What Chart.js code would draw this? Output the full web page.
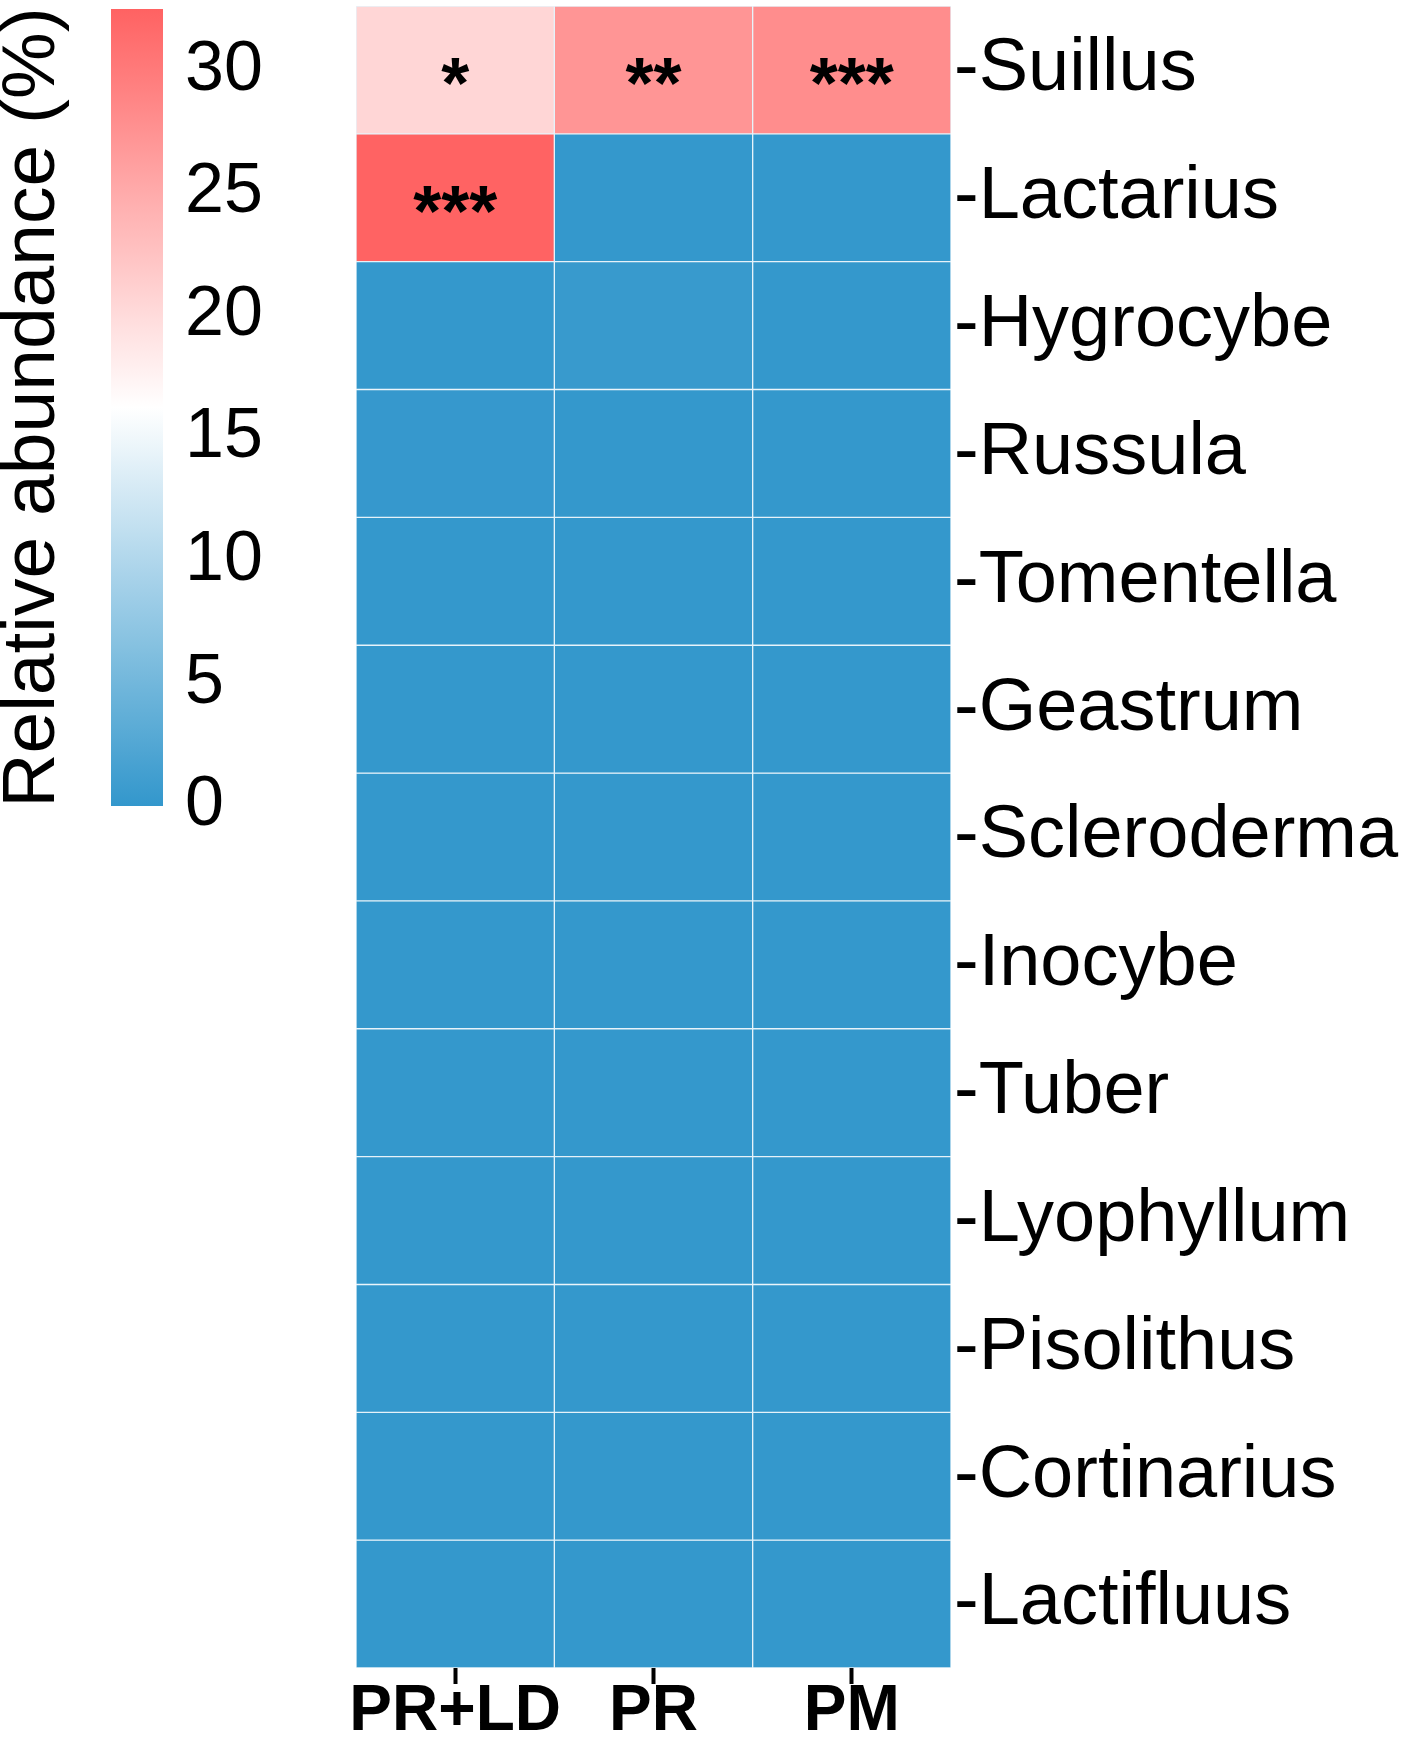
<!DOCTYPE html>
<html>
<head>
<meta charset="utf-8">
<script src="https://cdn.jsdelivr.net/npm/chart.js@4.4.1/dist/chart.umd.min.js"></script>
<style>
  html, body { margin: 0; padding: 0; background: #fff; }
  #wrap { position: relative; width: 1412px; height: 1743px; }
  #legend { position: absolute; left: 0; top: 0; }
  #heat { position: absolute; left: 330px; top: 0; }
</style>
</head>
<body>
<div id="wrap">
  <canvas id="legend" width="330" height="880"></canvas>
  <canvas id="heat" width="1082" height="1743"></canvas>
</div>
<script>
// columns (treatments) and rows (genera), top to bottom
const groups = ['PR+LD', 'PR', 'PM'];
const genera = ['Suillus', 'Lactarius', 'Hygrocybe', 'Russula', 'Tomentella', 'Geastrum',
                'Scleroderma', 'Inocybe', 'Tuber', 'Lyophyllum', 'Pisolithus', 'Cortinarius', 'Lactifluus'];

// relative abundance (%) per genus, in the order of groups
const suillus     = [20.5, 27.2, 28.1];
const lactarius   = [32.4, 0.1, 0.1];
const hygrocybe   = [0.1, 0.4, 0.1];
const russula     = [0.2, 0.1, 0.1];
const tomentella  = [0.1, 0.1, 0.1];
const geastrum    = [0.1, 0.1, 0.1];
const scleroderma = [0.1, 0.1, 0.1];
const inocybe     = [0.1, 0.1, 0.1];
const tuber       = [0.1, 0.1, 0.1];
const lyophyllum  = [0.1, 0.1, 0.1];
const pisolithus  = [0.1, 0.1, 0.1];
const cortinarius = [0.1, 0.1, 0.1];
const lactifluus  = [0.1, 0.1, 0.1];
const abundance = [suillus, lactarius, hygrocybe, russula, tomentella, geastrum,
                   scleroderma, inocybe, tuber, lyophyllum, pisolithus, cortinarius, lactifluus];

// significance marks (only the two top rows have any)
const signifSuillus   = ['*', '**', '***'];
const signifLactarius = ['***', '', ''];

// colour bar
const legendTicks = [0, 5, 10, 15, 20, 25, 30];
const colorMin = 0;
const colorMax = 32.5;

const FONT = '"Liberation Sans", Arial, Helvetica, sans-serif';
const LOW = [51, 151, 204];
const MID = [255, 255, 255];
const HIGH = [255, 98, 98];

function fillFor(v) {
    const mid = (colorMin + colorMax) / 2;
    let a, b, t;
    if (v <= mid) { a = LOW; b = MID; t = (v - colorMin) / (mid - colorMin); }
    else { a = MID; b = HIGH; t = (v - mid) / (colorMax - mid); }
    t = Math.max(0, Math.min(1, t));
    const c = a.map((x, i) => Math.round(x + (b[i] - x) * t));
    return `rgb(${c[0]},${c[1]},${c[2]})`;
}

// colour bar legend
new Chart(document.getElementById('legend'), {
    type: 'bar',
    data: {
        labels: [''],
        datasets: [{
            data: [[colorMin, colorMax]],
            backgroundColor: (ctx) => {
                const chart = ctx.chart;
                if (!chart.chartArea) return fillFor(colorMin);
                const ys = chart.scales.y;
                const g = chart.ctx.createLinearGradient(0, ys.getPixelForValue(colorMin), 0, ys.getPixelForValue(colorMax));
                for (let k = 0; k <= 20; k++) {
                    g.addColorStop(k / 20, fillFor(colorMin + (colorMax - colorMin) * k / 20));
                }
                return g;
            },
            borderWidth: 0,
            barPercentage: 1,
            categoryPercentage: 1
        }]
    },
    options: {
        responsive: false,
        animation: false,
        layout: { padding: { top: 9, bottom: 74, left: 0, right: 0 } },
        plugins: { legend: { display: false }, tooltip: { enabled: false } },
        scales: {
            x: { display: false },
            y: {
                position: 'right',
                min: colorMin,
                max: colorMax,
                grid: { display: false, drawTicks: false },
                border: { display: false },
                afterBuildTicks: (s) => { s.ticks = legendTicks.map(v => ({ value: v })); },
                afterFit: (s) => { s.width = 167; s.paddingTop = 0; s.paddingBottom = 0; },
                ticks: { padding: 22, color: '#000', font: { family: FONT, size: 70 } }
            },
            yt: {
                position: 'left',
                min: 0,
                max: 1,
                grid: { display: false, drawTicks: false },
                border: { display: false },
                ticks: { display: false },
                afterFit: (s) => { s.width = 111; s.paddingTop = 0; s.paddingBottom = 0; },
                title: {
                    display: true,
                    text: 'Relative abundance (%)',
                    color: '#000',
                    padding: 0,
                    font: { family: FONT, size: 75, lineHeight: 0.9 }
                }
            }
        }
    }
});

// asterisks drawn at each cell centre
const starPlugin = {
    id: 'stars',
    afterDatasetsDraw(chart) {
        const c = chart.ctx;
        const marks = [signifSuillus, signifLactarius];
        c.save();
        c.fillStyle = '#000';
        c.font = 'bold 72px ' + FONT;
        c.textAlign = 'center';
        c.textBaseline = 'alphabetic';
        marks.forEach((row, r) => row.forEach((s, k) => {
            if (!s) return;
            const el = chart.getDatasetMeta(r).data[k];
            const yc = (el.y + el.base) / 2;
            c.fillText(s, el.x, yc + 38);
        }));
        c.restore();
    }
};

new Chart(document.getElementById('heat'), {
    type: 'bar',
    data: {
        labels: groups,
        datasets: genera.map((g, r) => ({
            label: g,
            data: groups.map(() => [r, r + 1]),
            backgroundColor: abundance[r].map(fillFor),
            borderColor: 'rgba(228,242,250,0.9)',
            borderWidth: 1,
            borderSkipped: false,
            grouped: false,
            barPercentage: 1,
            categoryPercentage: 1
        }))
    },
    options: {
        responsive: false,
        animation: false,
        layout: { padding: { left: 26, top: 6, right: 0, bottom: 0 } },
        plugins: { legend: { display: false }, tooltip: { enabled: false } },
        scales: {
            x: {
                grid: { display: true, drawOnChartArea: false, offset: false, tickLength: 16, tickWidth: 4, tickColor: '#000' },
                border: { display: false },
                ticks: {
                    color: '#000',
                    padding: 0,
                    autoSkip: false,
                    maxRotation: 0,
                    minRotation: 0,
                    font: { family: FONT, size: 64, weight: 'bold', lineHeight: 0.9 }
                },
                afterFit: (s) => { s.height = 75; s.paddingLeft = 0; s.paddingRight = 0; }
            },
            y: {
                position: 'right',
                reverse: true,
                min: 0,
                max: genera.length,
                grid: { display: false, drawTicks: false },
                border: { display: false },
                afterBuildTicks: (s) => { s.ticks = genera.map((_, i) => ({ value: i + 0.5 })); },
                afterFit: (s) => { s.width = 461; s.paddingTop = 0; s.paddingBottom = 0; },
                ticks: {
                    padding: 3,
                    color: '#000',
                    font: { family: FONT, size: 74 },
                    callback: (v, i) => '-' + genera[i]
                }
            }
        }
    },
    plugins: [starPlugin]
});
</script>
</body>
</html>
